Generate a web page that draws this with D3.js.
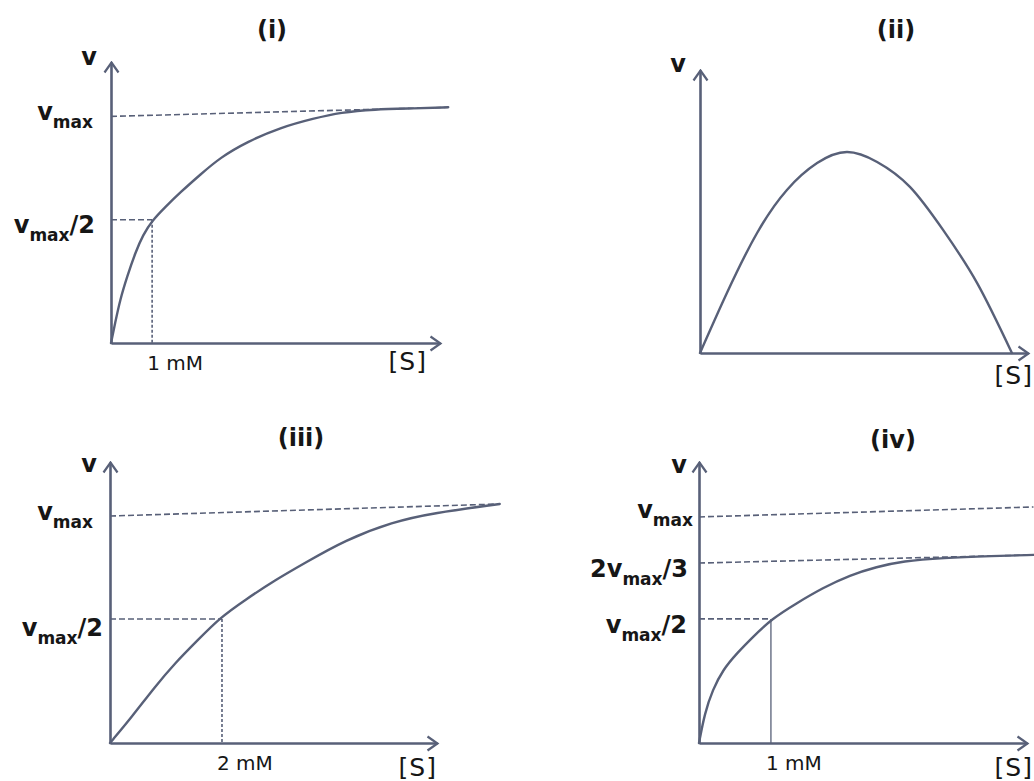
<!DOCTYPE html>
<html>
<head>
<meta charset="utf-8">
<script src="https://cdn.jsdelivr.net/npm/d3@7"></script>
<style>
  html, body { margin: 0; padding: 0; background: #fff; }
  svg { display: block; }
  text { font-family: "DejaVu Sans", sans-serif; fill: #161616; }
</style>
</head>
<body>
<svg id="chart" width="1034" height="781"></svg>
<script>
// values: x in mM, v as fraction of vmax
const curveI = [[0,0],[0.1,0.088],[0.22,0.19],[0.39,0.292],[0.59,0.398],[0.78,0.478],[1.0,0.54],[1.32,0.6],[1.68,0.664],[2.17,0.743],[2.66,0.819],[3.32,0.889],[4.12,0.951],[4.93,0.991],[5.59,1.018],[6.39,1.031],[7.37,1.035],[8.2,1.04]];
const curveII = [[0,0],[0.82,2.12],[1.74,4.24],[2.65,5.76],[3.57,6.71],[4.48,7.1],[5.4,6.75],[6.4,5.87],[7.41,4.35],[8.45,2.47],[9.51,0]];
const curveIII = [[0,0],[0.39,0.115],[0.8,0.247],[1.16,0.352],[1.57,0.454],[1.96,0.551],[2.41,0.63],[2.95,0.718],[3.48,0.793],[4.2,0.894],[5.05,0.974],[5.77,1.013],[6.96,1.053]];
const curveIV = [[0,0],[0.08,0.133],[0.19,0.235],[0.33,0.323],[0.53,0.398],[0.75,0.469],[1.01,0.549],[1.36,0.619],[1.72,0.686],[2.1,0.743],[2.47,0.779],[2.83,0.805],[3.39,0.819],[4.08,0.827],[4.65,0.832]];

// guide lines [x0, v0, x1, v1, style]
const guidesI = [[0,1.0,8.2,1.04,"dash"],[0,0.544,1,0.544,"dash"],[1,0.544,1,0,"dot"]];
const guidesIII = [[0,1.0,6.96,1.053,"dash"],[0,0.546,2,0.546,"dash"],[2,0.546,2,0,"dot"]];
const guidesIV = [[0,1.0,4.65,1.044,"dash"],[0,0.796,4.65,0.832,"dash"],[0,0.549,1,0.549,"dash"],[1,0.549,1,0,"solid"]];

// y tick levels and labels [before sub, sub, after sub]
const yTicksI = [1.0, 0.544];
const yLabelsI = [["v","max",""],["v","max","/2"]];
const yTicksIII = [1.0, 0.546];
const yLabelsIII = [["v","max",""],["v","max","/2"]];
const yTicksIV = [1.0, 0.796, 0.549];
const yLabelsIV = [["v","max",""],["2v","max","/3"],["v","max","/2"]];

const xTicksI = [1], xLabelsI = ["1 mM"];
const xTicksIII = [2], xLabelsIII = ["2 mM"];
const xTicksIV = [1], xLabelsIV = ["1 mM"];

const titles = ["(i)", "(ii)", "(iii)", "(iv)"];

const lineColor = "#586078";

const svg = d3.select("#chart");

const defs = svg.append("defs");
defs.append("marker")
  .attr("id", "arrow")
  .attr("markerUnits", "userSpaceOnUse")
  .attr("viewBox", "-12 -9 14 18")
  .attr("refX", 0).attr("refY", 0)
  .attr("markerWidth", 14).attr("markerHeight", 18)
  .attr("orient", "auto")
  .append("path")
  .attr("d", "M-10,-7L0,0L-10,7")
  .attr("fill", "none")
  .attr("stroke", lineColor)
  .attr("stroke-width", 2.2)
  .attr("stroke-linejoin", "miter");

// panel frames (pixel layout)
const panels = [
  { curve: curveI, guides: guidesI, yTicks: yTicksI, yLabels: yLabelsI, xTicks: xTicksI, xLabels: xLabelsI,
    xMax: 8.0, yMax: 1.24, ox: 111, tipX: 440, oy: 343, tipY: 62, smooth: d3.curveBasis,
    title: [272, 38], vLab: [97, 65], sLab: [427, 370], xLabY: 370, labEnd: [-18, -16], labDy: [4, 13] },
  { curve: curveII, guides: [], yTicks: [], yLabels: [], xTicks: [], xLabels: [],
    xMax: 10, yMax: 10, ox: 700, tipX: 1028, oy: 353, tipY: 70, smooth: d3.curveNatural,
    title: [896, 38], vLab: [686, 72], sLab: [1033, 384], xLabY: 0, labEnd: [], labDy: [] },
  { curve: curveIII, guides: guidesIII, yTicks: yTicksIII, yLabels: yLabelsIII, xTicks: xTicksIII, xLabels: xLabelsIII,
    xMax: 5.84, yMax: 1.238, ox: 110, tipX: 437, oy: 743, tipY: 462, smooth: d3.curveBasis,
    title: [301, 446], vLab: [97, 472], sLab: [437, 776], xLabY: 770, labEnd: [-17, -7], labDy: [4, 17] },
  { curve: curveIV, guides: guidesIV, yTicks: yTicksIV, yLabels: yLabelsIV, xTicks: xTicksIV, xLabels: xLabelsIV,
    xMax: 4.56, yMax: 1.243, ox: 699, tipX: 1027, oy: 743, tipY: 462, smooth: d3.curveBasis,
    title: [893, 448], vLab: [687, 473], sLab: [1033, 776], xLabY: 770, labEnd: [-6, -11, -12], labDy: [1, 14, 14] }
];

function drawPanel(p, i) {
  const x = d3.scaleLinear().domain([0, p.xMax]).range([p.ox, p.tipX]);
  const y = d3.scaleLinear().domain([0, p.yMax]).range([p.oy, p.tipY]);
  const g = svg.append("g");

  // guides
  g.selectAll("line.guide")
    .data(p.guides)
    .enter().append("line")
    .attr("class", "guide")
    .attr("x1", d => x(d[0])).attr("y1", d => y(d[1]))
    .attr("x2", d => x(d[2])).attr("y2", d => y(d[3]))
    .attr("stroke", lineColor)
    .attr("stroke-width", d => d[4] == "solid" ? 1.3 : 1.6)
    .attr("stroke-dasharray", d => d[4] == "dash" ? "6,3" : d[4] == "dot" ? "3,2" : null);

  // axes (no ticks, arrow ends)
  const xAxis = g.append("g")
    .attr("transform", `translate(0,${p.oy})`)
    .call(d3.axisBottom(x).tickValues([]).tickSizeOuter(0));
  const yAxis = g.append("g")
    .attr("transform", `translate(${p.ox},0)`)
    .call(d3.axisLeft(y).tickValues([]).tickSizeOuter(0));
  [xAxis, yAxis].forEach(a => {
    a.select(".domain")
      .attr("stroke", lineColor)
      .attr("stroke-width", 2.6)
      .attr("marker-end", "url(#arrow)");
  });

  // curve
  g.append("path")
    .datum(p.curve)
    .attr("fill", "none")
    .attr("stroke", lineColor)
    .attr("stroke-width", 2.4)
    .attr("stroke-linecap", "round")
    .attr("d", d3.line()
      .x(d => x(d[0]))
      .y(d => y(d[1]))
      .curve(p.smooth));

  // y labels with subscripts
  p.yTicks.forEach((t, k) => {
    const parts = p.yLabels[k];
    const txt = g.append("text")
      .attr("x", p.ox + p.labEnd[k])
      .attr("y", y(t) + p.labDy[k])
      .attr("text-anchor", "end")
      .attr("font-weight", "bold")
      .attr("font-size", 24);
    txt.append("tspan").text(parts[0]);
    txt.append("tspan").attr("font-size", 17).attr("dy", 8).text(parts[1]);
    if (parts[2]) txt.append("tspan").attr("dy", -8).text(parts[2]);
  });

  // x labels
  p.xTicks.forEach((t, k) => {
    g.append("text")
      .attr("x", x(t) - 5)
      .attr("y", p.xLabY)
      .attr("font-size", 20)
      .text(p.xLabels[k]);
  });

  // axis names and title
  g.append("text")
    .attr("x", p.vLab[0]).attr("y", p.vLab[1])
    .attr("text-anchor", "end")
    .attr("font-weight", "bold")
    .attr("font-size", 24)
    .text("v");
  g.append("text")
    .attr("x", p.sLab[0]).attr("y", p.sLab[1])
    .attr("text-anchor", "end")
    .attr("font-size", 25)
    .attr("letter-spacing", 1)
    .text("[S]");
  g.append("text")
    .attr("x", p.title[0]).attr("y", p.title[1])
    .attr("text-anchor", "middle")
    .attr("font-weight", "bold")
    .attr("font-size", 24)
    .text(titles[i]);
}

panels.forEach(drawPanel);
</script>
</body>
</html>
